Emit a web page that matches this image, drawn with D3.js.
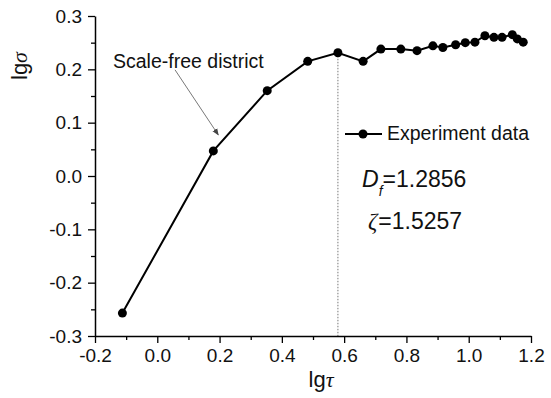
<!DOCTYPE html>
<html><head><meta charset="utf-8">
<script src="https://cdn.jsdelivr.net/npm/d3@7"></script>
<style>body{margin:0;background:#fff}svg{display:block}</style>
</head><body>
<svg id="c" width="551" height="398"></svg>
<script>
const lgTau = [-0.112, 0.180, 0.353, 0.483, 0.580, 0.661, 0.718, 0.782, 0.834, 0.885, 0.917, 0.958, 0.989, 1.020, 1.052, 1.081, 1.107, 1.140, 1.156, 1.175];
const lgSigma = [-0.257, 0.047, 0.160, 0.215, 0.231, 0.215, 0.238, 0.238, 0.235, 0.244, 0.241, 0.246, 0.250, 0.251, 0.263, 0.260, 0.260, 0.265, 0.257, 0.251];
const xTicks = [-0.2, 0.0, 0.2, 0.4, 0.6, 0.8, 1.0, 1.2];
const yTicks = [-0.3, -0.2, -0.1, 0.0, 0.1, 0.2, 0.3];
const xMinor = [-0.1, 0.1, 0.3, 0.5, 0.7, 0.9, 1.1];
const yMinor = [-0.25, -0.15, -0.05, 0.05, 0.15, 0.25];
const seriesName = "Experiment data";
const annotationText = "Scale-free district";
const arrowFrom = [0.057, 0.199];
const arrowTo = [0.196, 0.077];
const dividerX = 0.580;
const dfText = "1.2856";
const zetaText = "1.5257";

const svg = d3.select("#c");
const x = d3.scaleLinear().domain([-0.2, 1.2]).range([95, 531]);
const y = d3.scaleLinear().domain([-0.3, 0.3]).range([336, 16]);
const FONT = "'Liberation Sans', Arial, sans-serif";
const fmt = d => d.toFixed(1);

// dotted divider
svg.append("line")
  .attr("x1", x(dividerX)).attr("x2", x(dividerX))
  .attr("y1", y(lgSigma[lgTau.indexOf(dividerX)])).attr("y2", y(-0.3))
  .attr("stroke", "#777").attr("stroke-width", 1).attr("stroke-dasharray", "1.5,1.5");

// axes
const xAxis = d3.axisBottom(x).tickValues(xTicks).tickSize(7).tickSizeOuter(0).tickPadding(6).tickFormat(fmt);
const yAxis = d3.axisLeft(y).tickValues(yTicks).tickSize(7).tickSizeOuter(0).tickPadding(6).tickFormat(fmt);
svg.append("g").attr("transform", `translate(0,${y(-0.3)})`).call(xAxis);
svg.append("g").attr("transform", `translate(${x(-0.2)},0)`).call(yAxis);
svg.append("g").attr("transform", `translate(0,${y(-0.3)})`)
  .call(d3.axisBottom(x).tickValues(xMinor).tickSize(4).tickSizeOuter(0).tickFormat(""))
  .select(".domain").remove();
svg.append("g").attr("transform", `translate(${x(-0.2)},0)`)
  .call(d3.axisLeft(y).tickValues(yMinor).tickSize(4).tickSizeOuter(0).tickFormat(""))
  .select(".domain").remove();
svg.selectAll(".domain").attr("stroke", "#000").attr("stroke-width", 1.5);
svg.selectAll(".tick line").attr("stroke", "#000").attr("stroke-width", 1.3);
svg.selectAll(".tick text").attr("font-family", FONT).attr("font-size", 19).attr("fill", "#111");

// axis titles
const xt = svg.append("text").attr("x", 321).attr("y", 387).attr("text-anchor", "middle")
  .attr("font-family", FONT).attr("font-size", 22).attr("fill", "#111");
xt.append("tspan").text("lg");
xt.append("tspan").attr("font-family", "'Liberation Serif', serif").attr("font-style", "italic").text("\u03C4");
const yt = svg.append("text").attr("transform", "translate(27,66) rotate(-90)").attr("text-anchor", "middle")
  .attr("font-family", FONT).attr("font-size", 22).attr("fill", "#111");
yt.append("tspan").text("lg");
yt.append("tspan").attr("font-family", "'Liberation Serif', serif").attr("font-style", "italic").text("\u03C3");

// series
const pts = lgTau.map((v, i) => [v, lgSigma[i]]);
svg.append("path").datum(pts)
  .attr("d", d3.line().x(d => x(d[0])).y(d => y(d[1])))
  .attr("fill", "none").attr("stroke", "#000").attr("stroke-width", 2);
svg.selectAll("circle.pt").data(pts).join("circle").attr("class", "pt")
  .attr("cx", d => x(d[0])).attr("cy", d => y(d[1])).attr("r", 4.5).attr("fill", "#000");

// annotation
svg.append("defs").append("marker").attr("id", "ah").attr("viewBox", "0 0 10 10")
  .attr("refX", 9).attr("refY", 5).attr("markerWidth", 7).attr("markerHeight", 7)
  .attr("markerUnits", "userSpaceOnUse").attr("orient", "auto")
  .append("path").attr("d", "M0,1 L10,5 L0,9 Z").attr("fill", "#444");
svg.append("line")
  .attr("x1", x(arrowFrom[0])).attr("y1", y(arrowFrom[1]))
  .attr("x2", x(arrowTo[0])).attr("y2", y(arrowTo[1]))
  .attr("stroke", "#555").attr("stroke-width", 0.8).attr("marker-end", "url(#ah)");
svg.append("text").attr("x", 113).attr("y", 68)
  .attr("font-family", FONT).attr("font-size", 19.5).attr("fill", "#111").text(annotationText);

// legend
svg.append("line").attr("x1", 345).attr("x2", 382).attr("y1", 134).attr("y2", 134)
  .attr("stroke", "#000").attr("stroke-width", 2);
svg.append("circle").attr("cx", 363).attr("cy", 134).attr("r", 4.5).attr("fill", "#000");
svg.append("text").attr("x", 387).attr("y", 140)
  .attr("font-family", FONT).attr("font-size", 19.5).attr("fill", "#111").text(seriesName);

// Df and zeta
const t1 = svg.append("text").attr("x", 362).attr("y", 187)
  .attr("font-family", FONT).attr("font-size", 23).attr("fill", "#111");
t1.append("tspan").attr("font-style", "italic").text("D");
t1.append("tspan").attr("font-style", "italic").attr("font-size", 14).attr("dy", 9).text("f");
t1.append("tspan").attr("dy", -9).text("=" + dfText);
const t2 = svg.append("text").attr("x", 368).attr("y", 229)
  .attr("font-family", FONT).attr("font-size", 23).attr("fill", "#111");
t2.append("tspan").attr("font-family", "'Liberation Serif', serif").attr("font-style", "italic").text("\u03B6");
t2.append("tspan").attr("dx", 1).text("=" + zetaText);
</script>
</body></html>
